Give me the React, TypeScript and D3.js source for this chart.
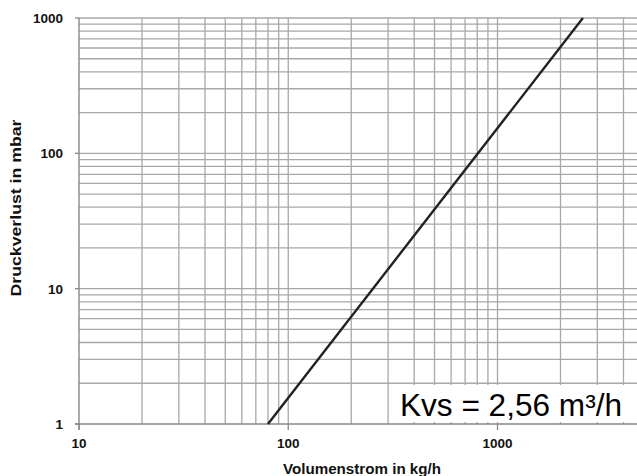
import React from "react";
import * as d3 from "d3";

const flowPoints = [80, 2560]; // kg/h
const pressurePoints = [1, 1000]; // mbar
const xMajorTicks = [10, 100, 1000];
const xTickLabels = ["10", "100", "1000"];
const yMajorTicks = [1, 10, 100, 1000];
const yTickLabels = ["1", "10", "100", "1000"];
const xGridValues = [20, 30, 40, 50, 60, 70, 80, 90, 100, 200, 300, 400, 500, 600, 700, 800, 900, 1000, 2000, 3000, 4000, 5000];
const yGridValues = [2, 3, 4, 5, 6, 7, 8, 9, 10, 20, 30, 40, 50, 60, 70, 80, 90, 100, 200, 300, 400, 500, 600, 700, 800, 900, 1000];
const kvsLabel = "Kvs = 2,56 m³/h";
const xTitle = "Volumenstrom in kg/h";
const yTitle = "Druckverlust in mbar";

export default function App() {
  const W = 637, H = 476;
  const x = d3.scaleLog().domain([10, 10000]).range([79, 79 + 3 * 209.25]);
  const y = d3.scaleLog().domain([1, 1000]).range([424, 18]);
  const line = d3.line<number>().x((d, i) => x(flowPoints[i])).y((d, i) => y(pressurePoints[i]));
  const x0 = x(10);
  const xEnd = W;
  const labelFont = "'Liberation Sans', Arial, sans-serif";
  return (
    <svg width={W} height={H} style={{ position: "absolute", left: 0, top: 0, background: "#fff" }}>
      <rect x={0} y={0} width={W} height={H} fill="#fff" />
      {xGridValues.map((v) => (
        <line key={"vx" + v} x1={x(v)} x2={x(v)} y1={y(1000)} y2={y(1)} stroke="#a8a8a8" strokeWidth={1.3} />
      ))}
      {yGridValues.map((v) => (
        <line key={"hy" + v} x1={x0} x2={xEnd} y1={y(v)} y2={y(v)} stroke="#a8a8a8" strokeWidth={1.3} />
      ))}
      <line x1={x0} x2={x0} y1={y(1000)} y2={y(1) + 6} stroke="#888" strokeWidth={1.4} />
      <line x1={x0 - 4} x2={xEnd} y1={y(1)} y2={y(1)} stroke="#888" strokeWidth={1.4} />
      {yMajorTicks.map((v) => (
        <line key={"yt" + v} x1={x0 - 4} x2={x0} y1={y(v)} y2={y(v)} stroke="#888" strokeWidth={1.3} />
      ))}
      {xMajorTicks.map((v) => (
        <line key={"xt" + v} x1={x(v)} x2={x(v)} y1={y(1)} y2={y(1) + 6} stroke="#888" strokeWidth={1.3} />
      ))}
      <path d={line(flowPoints) || ""} fill="none" stroke="#222" strokeWidth={2.4} />
      <rect x={392} y={385} width={W - 392} height={37} fill="#fff" />
      <text x={400} y={416} fontFamily={labelFont} fontSize={31} fill="#000" textLength={222} lengthAdjust="spacingAndGlyphs">
        {kvsLabel}
      </text>
      {yMajorTicks.map((v, i) => (
        <text key={"yl" + v} x={63} y={y(v) + 5} textAnchor="end" fontFamily={labelFont} fontWeight="bold" fontSize={13.5} fill="#111">
          {yTickLabels[i]}
        </text>
      ))}
      {xMajorTicks.map((v, i) => (
        <text key={"xl" + v} x={x(v)} y={448} textAnchor="middle" fontFamily={labelFont} fontWeight="bold" fontSize={13.5} fill="#111">
          {xTickLabels[i]}
        </text>
      ))}
      <text x={362} y={474} textAnchor="middle" fontFamily={labelFont} fontWeight="bold" fontSize={14} fill="#111" textLength={158} lengthAdjust="spacingAndGlyphs">
        {xTitle}
      </text>
      <text transform={`translate(21,${208}) rotate(-90)`} textAnchor="middle" fontFamily={labelFont} fontWeight="bold" fontSize={14} fill="#111" textLength={177} lengthAdjust="spacingAndGlyphs">
        {yTitle}
      </text>
    </svg>
  );
}
